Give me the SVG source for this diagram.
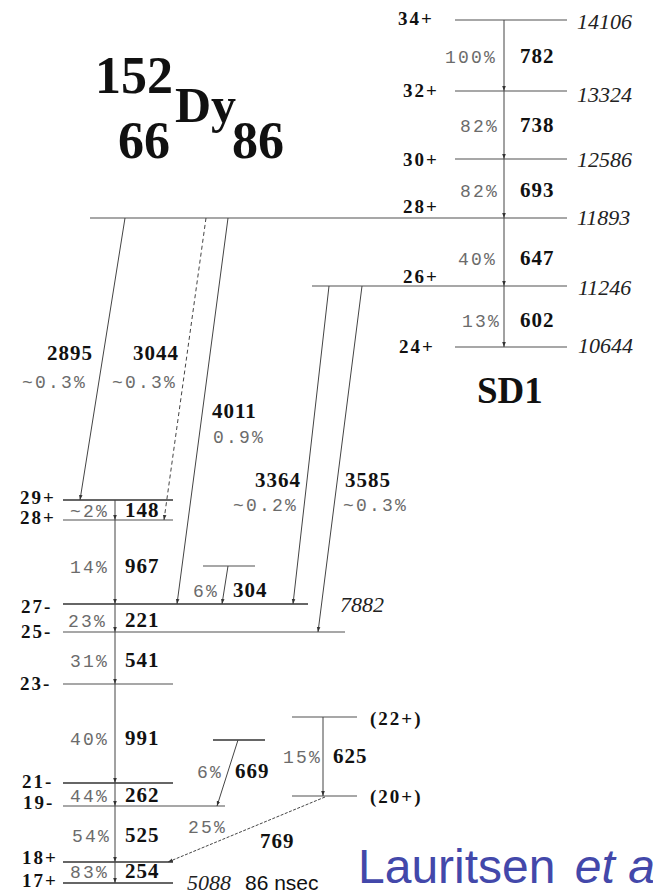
<svg xmlns="http://www.w3.org/2000/svg" width="653" height="896" viewBox="0 0 653 896">
<style>
.lv{stroke:#8a8a8a;stroke-width:1.3;fill:none}
.lvd{stroke:#333;stroke-width:1.6;fill:none}
.tr{stroke:#444;stroke-width:1;fill:none}
.spin{font-family:"Liberation Serif",serif;font-weight:bold;font-size:19px;letter-spacing:2px;fill:#111}
.g{font-family:"Liberation Serif",serif;font-weight:bold;font-size:21px;letter-spacing:1px;fill:#111}
.e{font-family:"Liberation Serif",serif;font-style:italic;font-size:22px;fill:#222}
.p{font-family:"Liberation Mono",monospace;font-size:18px;letter-spacing:2.2px;fill:#6b6b6b}
.t{font-family:"Liberation Serif",serif;font-weight:bold;fill:#111}
</style>
<defs>
<marker id="ah" markerWidth="5" markerHeight="7" refX="7" refY="2.5" orient="auto" markerUnits="userSpaceOnUse" viewBox="0 0 7 5">
<path d="M0,0 L7,2.5 L0,5 z" fill="#333"/>
</marker>
</defs>
<rect width="653" height="896" fill="#fff"/>

<g id="title">
<text class="t" x="95" y="93" font-size="52">152</text>
<text class="t" x="175" y="122" font-size="50">Dy</text>
<text class="t" x="118" y="158" font-size="52">66</text>
<text class="t" x="232" y="158" font-size="52">86</text>
</g>

<g id="sd-34"><line class="lv" x1="455" y1="20" x2="567" y2="20"/><text class="spin" x="398" y="25">34+</text><text class="e" x="577" y="29">14106</text></g>
<g id="sd-32"><line class="lv" x1="455" y1="91" x2="567" y2="91"/><text class="spin" x="403" y="97">32+</text><text class="e" x="577" y="102">13324</text></g>
<g id="sd-30"><line class="lv" x1="455" y1="159" x2="567" y2="159"/><text class="spin" x="403" y="166">30+</text><text class="e" x="577" y="167">12586</text></g>
<g id="sd-28"><line class="lv" x1="90" y1="218" x2="567" y2="218" stroke-width="1.6"/><text class="spin" x="403" y="213">28+</text><text class="e" x="577" y="225">11893</text></g>
<g id="sd-26"><line class="lv" x1="312" y1="286" x2="567" y2="286"/><text class="spin" x="403" y="283">26+</text><text class="e" x="578" y="295">11246</text></g>
<g id="sd-24"><line class="lv" x1="455" y1="347" x2="567" y2="347"/><text class="spin" x="399" y="353">24+</text><text class="e" x="578" y="353">10644</text></g>
<g id="sd1-label"><text class="t" x="477" y="403" font-size="37">SD1</text></g>

<g id="lv-29"><line class="lvd" x1="63" y1="500" x2="173" y2="500"/><text class="spin" x="20" y="504">29+</text></g>
<g id="lv-28"><line class="lv" x1="63" y1="520" x2="173" y2="520"/><text class="spin" x="20" y="524">28+</text></g>
<g id="lv-x566"><line class="lv" x1="203" y1="566" x2="255" y2="566"/></g>
<g id="lv-27"><line class="lvd" x1="63" y1="604" x2="308" y2="604" stroke-width="1.3" stroke="#555"/><text class="spin" x="21" y="613">27-</text><text class="e" x="340" y="612">7882</text></g>
<g id="lv-25"><line class="lv" x1="63" y1="632" x2="345" y2="632"/><text class="spin" x="21" y="638">25-</text></g>
<g id="lv-23"><line class="lv" x1="63" y1="684" x2="173" y2="684"/><text class="spin" x="20" y="690">23-</text></g>
<g id="lv-22"><line class="lv" x1="292" y1="717" x2="357" y2="717"/><text class="spin" x="370" y="725">(22+)</text></g>
<g id="lv-x740"><line class="lvd" x1="213" y1="740" x2="265" y2="740" stroke-width="1.3" stroke="#555"/></g>
<g id="lv-21"><line class="lvd" x1="63" y1="783" x2="173" y2="783" stroke-width="1.3" stroke="#555"/><text class="spin" x="22" y="788">21-</text></g>
<g id="lv-20"><line class="lv" x1="292" y1="796" x2="357" y2="796"/><text class="spin" x="370" y="803">(20+)</text></g>
<g id="lv-19"><line class="lv" x1="63" y1="806" x2="225" y2="806"/><text class="spin" x="23" y="809">19-</text></g>
<g id="lv-18"><line class="lvd" x1="63" y1="862" x2="173" y2="862" stroke-width="1.3" stroke="#555"/><text class="spin" x="22" y="864">18+</text></g>
<g id="lv-17"><line class="lvd" x1="63" y1="883" x2="173" y2="883" stroke-width="1.3" stroke="#555"/><text class="spin" x="22" y="887">17+</text><text class="e" x="187" y="890">5088</text><text x="245" y="890" font-family="Liberation Sans,Arial,sans-serif" font-size="21" fill="#111">86 nsec</text></g>

<g id="connectors">
<line class="tr" x1="504" y1="20" x2="504" y2="91" marker-end="url(#ah)"/>
<line class="tr" x1="504" y1="91" x2="504" y2="159" marker-end="url(#ah)"/>
<line class="tr" x1="504" y1="159" x2="504" y2="218" marker-end="url(#ah)"/>
<line class="tr" x1="504" y1="218" x2="504" y2="286" marker-end="url(#ah)"/>
<line class="tr" x1="504" y1="286" x2="504" y2="347" marker-end="url(#ah)"/>

<line class="tr" x1="125" y1="218" x2="80" y2="500" marker-end="url(#ah)"/>
<line class="tr" x1="206" y1="218" x2="164" y2="520" stroke-dasharray="4,3" marker-end="url(#ah)"/>
<line class="tr" x1="228" y1="218" x2="177" y2="604" stroke-width="1.6" stroke="#222" marker-end="url(#ah)"/>
<line class="tr" x1="329" y1="286" x2="293" y2="604" marker-end="url(#ah)"/>
<line class="tr" x1="362" y1="286" x2="318" y2="632" marker-end="url(#ah)"/>

<line class="tr" x1="115" y1="500" x2="115" y2="520" marker-end="url(#ah)"/>
<line class="tr" x1="115" y1="520" x2="115" y2="604" marker-end="url(#ah)"/>
<line class="tr" x1="115" y1="604" x2="115" y2="632" marker-end="url(#ah)"/>
<line class="tr" x1="115" y1="632" x2="115" y2="684" marker-end="url(#ah)"/>
<line class="tr" x1="115" y1="684" x2="115" y2="783" marker-end="url(#ah)"/>
<line class="tr" x1="115" y1="783" x2="115" y2="806" marker-end="url(#ah)"/>
<line class="tr" x1="115" y1="806" x2="115" y2="862" marker-end="url(#ah)"/>
<line class="tr" x1="115" y1="862" x2="115" y2="883" marker-end="url(#ah)"/>

<line class="tr" x1="228" y1="566" x2="222" y2="604" marker-end="url(#ah)"/>
<line class="tr" x1="238" y1="740" x2="217" y2="806" marker-end="url(#ah)"/>
<line class="tr" x1="323" y1="717" x2="323" y2="796" marker-end="url(#ah)"/>
<line class="tr" x1="325" y1="797" x2="168" y2="862" stroke-dasharray="3,1.5" marker-end="url(#ah)"/>
</g>

<g id="labels">
<text class="p" x="445" y="63">100%</text><text class="g" x="520" y="63">782</text>
<text class="p" x="460" y="132">82%</text><text class="g" x="520" y="132">738</text>
<text class="p" x="460" y="197">82%</text><text class="g" x="520" y="197">693</text>
<text class="p" x="458" y="265">40%</text><text class="g" x="520" y="265">647</text>
<text class="p" x="462" y="327">13%</text><text class="g" x="520" y="327">602</text>

<text class="g" x="47" y="360">2895</text><text class="p" x="22" y="388">~0.3%</text>
<text class="g" x="133" y="360">3044</text><text class="p" x="112" y="388">~0.3%</text>
<text class="g" x="212" y="418">4011</text><text class="p" x="213" y="443">0.9%</text>
<text class="g" x="255" y="487">3364</text><text class="p" x="233" y="511">~0.2%</text>
<text class="g" x="345" y="487">3585</text><text class="p" x="343" y="511">~0.3%</text>

<text class="p" x="70" y="517">~2%</text><text class="g" x="125" y="517">148</text>
<text class="p" x="70" y="573">14%</text><text class="g" x="125" y="573">967</text>
<text class="p" x="193" y="597">6%</text><text class="g" x="233" y="597">304</text>
<text class="p" x="68" y="627">23%</text><text class="g" x="125" y="627">221</text>
<text class="p" x="70" y="667">31%</text><text class="g" x="125" y="667">541</text>
<text class="p" x="70" y="745">40%</text><text class="g" x="125" y="745">991</text>
<text class="p" x="283" y="763">15%</text><text class="g" x="333" y="763">625</text>
<text class="p" x="197" y="778">6%</text><text class="g" x="235" y="778">669</text>
<text class="p" x="70" y="802">44%</text><text class="g" x="125" y="802">262</text>
<text class="p" x="188" y="833">25%</text><text class="g" x="260" y="848">769</text>
<text class="p" x="72" y="842">54%</text><text class="g" x="125" y="842">525</text>
<text class="p" x="70" y="878">83%</text><text class="g" x="125" y="878">254</text>
</g>

<g id="credit">
<text x="358" y="883" font-family="Liberation Sans,Arial,sans-serif" font-size="48" fill="#4348AA">Lauritsen <tspan font-style="italic" dx="6">et al.</tspan></text>
</g>
</svg>
